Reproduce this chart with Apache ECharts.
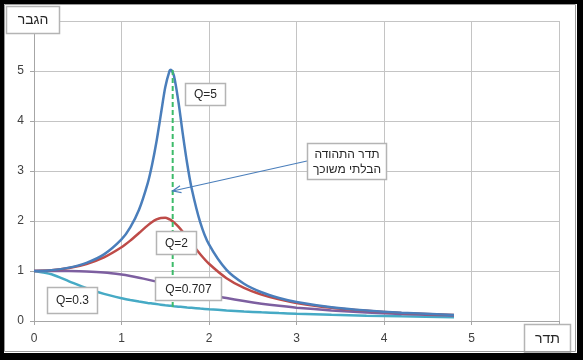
<!DOCTYPE html>
<html>
<head>
<meta charset="utf-8">
<script src="https://cdn.jsdelivr.net/npm/echarts@6/dist/echarts.min.js"></script>
<style>
html,body{margin:0;padding:0;background:#fff;}
#c{width:583px;height:360px;}
</style>
</head>
<body>
<div id="c"></div>
<script>
// Frequency (x) values
const freq = [0,0.2,0.4,0.6,0.8,1.0,1.1,1.2,1.3,1.35,1.4,1.45,1.5,1.55,1.565,1.6,1.65,1.7,1.75,1.8,1.9,2.0,2.2,2.4,2.6,2.8,3.0,3.4,3.8,4.2,4.8];
// Gain values per Q
const gainQ5   = [1,1.016,1.067,1.164,1.333,1.632,1.873,2.224,2.758,3.130,3.590,4.132,4.673,5.006,5.025,4.899,4.393,3.749,3.155,2.667,1.973,1.531,1.021,0.745,0.575,0.461,0.380,0.274,0.208,0.164,0.121];
const gainQ2   = [1,1.014,1.059,1.141,1.273,1.475,1.608,1.759,1.912,1.979,2.031,2.061,2.063,2.033,2.018,1.973,1.887,1.784,1.671,1.556,1.336,1.145,0.856,0.661,0.528,0.432,0.361,0.264,0.203,0.161,0.120];
const gainQ707 = [1,1.000,0.998,0.990,0.969,0.928,0.900,0.866,0.828,0.808,0.787,0.765,0.743,0.720,0.714,0.698,0.676,0.654,0.632,0.610,0.569,0.529,0.458,0.398,0.346,0.303,0.267,0.211,0.170,0.140,0.108];
const gainQ03  = [1,0.934,0.794,0.655,0.542,0.456,0.421,0.390,0.362,0.350,0.338,0.327,0.316,0.306,0.303,0.296,0.287,0.279,0.270,0.263,0.248,0.235,0.211,0.191,0.174,0.159,0.146,0.124,0.107,0.093,0.077];
// Undamped resonance frequency marker line
const resonanceX = [1.585, 1.585];
const resonanceY = [5.02, 0.22];
// Arrow tip (data coords)
const arrowTip = [1.585, 2.6];
// Tick labels
const xTicks = [0,1,2,3,4,5];
const yTicks = [0,1,2,3,4,5];

const zip = (xs, ys) => xs.map((x, i) => [x, ys[i]]);
const FONT = '"Liberation Sans", Arial, sans-serif';

const chart = echarts.init(document.getElementById('c'), null, {renderer: 'canvas'});

const axisCommon = {
  type: 'value', min: 0, max: 6, interval: 1,
  axisLine: {show: true, lineStyle: {color: '#a6a6a6', width: 1}},
  axisTick: {show: true, inside: false, length: 4, lineStyle: {color: '#a6a6a6'}},
  splitLine: {show: true, lineStyle: {color: '#c4c4c4', width: 1}},
};

function lineSeries(name, data, color) {
  return {
    name, type: 'line', data, smooth: 0.25, showSymbol: false,
    lineStyle: {color, width: 2.5}, itemStyle: {color}, z: 3
  };
}

chart.setOption({
  animation: false,
  grid: {left: 34, right: 24, top: 21, bottom: 39},
  xAxis: Object.assign({}, axisCommon, {
    axisLabel: {margin: 12, fontSize: 12, color: '#404040', fontFamily: FONT,
      formatter: v => xTicks.includes(v) ? String(v) : ''}
  }),
  yAxis: Object.assign({}, axisCommon, {
    axisLabel: {margin: 10, fontSize: 12, color: '#404040', fontFamily: FONT,
      formatter: v => yTicks.includes(v) ? String(v) : ''}
  }),
  series: [
    lineSeries('Q=0.3', zip(freq, gainQ03), '#46aac5'),
    lineSeries('Q=0.707', zip(freq, gainQ707), '#7d5fa0'),
    lineSeries('Q=2', zip(freq, gainQ2), '#be4b48'),
    lineSeries('Q=5', zip(freq, gainQ5), '#4a7ebb'),
    {
      name: 'resonance', type: 'line', data: zip(resonanceX, resonanceY), showSymbol: false,
      lineStyle: {color: '#3dbb6a', width: 2, type: [5, 3]}, z: 4
    }
  ]
});

function box(x, y, w, h, text, fs) {
  return {
    type: 'group', z: 100,
    children: [
      {type: 'rect', z: 100, shape: {x: x + 0.5, y: y + 0.5, width: w, height: h},
       style: {fill: '#fff', stroke: '#b4b4b4', lineWidth: 1.5}},
      {type: 'text', z: 101, style: {x: x + w / 2 + 0.5, y: y + h / 2 + 1, text, fill: '#262626',
        font: fs + 'px ' + FONT, textAlign: 'center', textVerticalAlign: 'middle', lineHeight: fs + 3}}
    ]
  };
}

const tip = chart.convertToPixel({gridIndex: 0}, arrowTip);
const start = [307, 161];
const ang = Math.atan2(start[1] - tip[1], start[0] - tip[0]);
const hl = 9, ha = 0.4;
const h1 = [tip[0] + hl * Math.cos(ang + ha), tip[1] + hl * Math.sin(ang + ha)];
const h2 = [tip[0] + hl * Math.cos(ang - ha), tip[1] + hl * Math.sin(ang - ha)];

chart.setOption({
  graphic: [
    // outer frame
    {type: 'rect', shape: {x: 0, y: 0, width: 583, height: 4}, style: {fill: '#000'}, z: 120},
    {type: 'rect', shape: {x: 0, y: 0, width: 4, height: 360}, style: {fill: '#000'}, z: 120},
    {type: 'rect', shape: {x: 577, y: 0, width: 6, height: 360}, style: {fill: '#000'}, z: 120},
    {type: 'rect', shape: {x: 0, y: 353, width: 583, height: 7}, style: {fill: '#000'}, z: 120},
    {type: 'rect', shape: {x: 4.5, y: 4.5, width: 571, height: 347}, style: {fill: 'none', stroke: '#9a9a9a', lineWidth: 1}, z: 119},
    // arrow
    {type: 'line', z: 90, shape: {x1: start[0], y1: start[1], x2: tip[0], y2: tip[1]}, style: {stroke: '#4a7ebb', lineWidth: 1.2}},
    {type: 'polyline', z: 90, shape: {points: [h1, tip, h2]}, style: {stroke: '#4a7ebb', lineWidth: 1.2, fill: 'none'}},
    // annotation boxes
    box(185, 83, 40, 22, 'Q=5', 12),
    box(156, 231, 40, 23, 'Q=2', 12),
    box(155, 277, 66, 23, 'Q=0.707', 12),
    box(47, 287, 50, 26, 'Q=0.3', 12),
    box(307, 143, 79, 36, 'תדר התהודה\nהבלתי משוכך', 12),
    // axis titles
    box(6, 6, 53, 27, 'הגבר', 14),
    box(524, 324, 46, 28, 'תדר', 14)
  ]
});
</script>
</body>
</html>
